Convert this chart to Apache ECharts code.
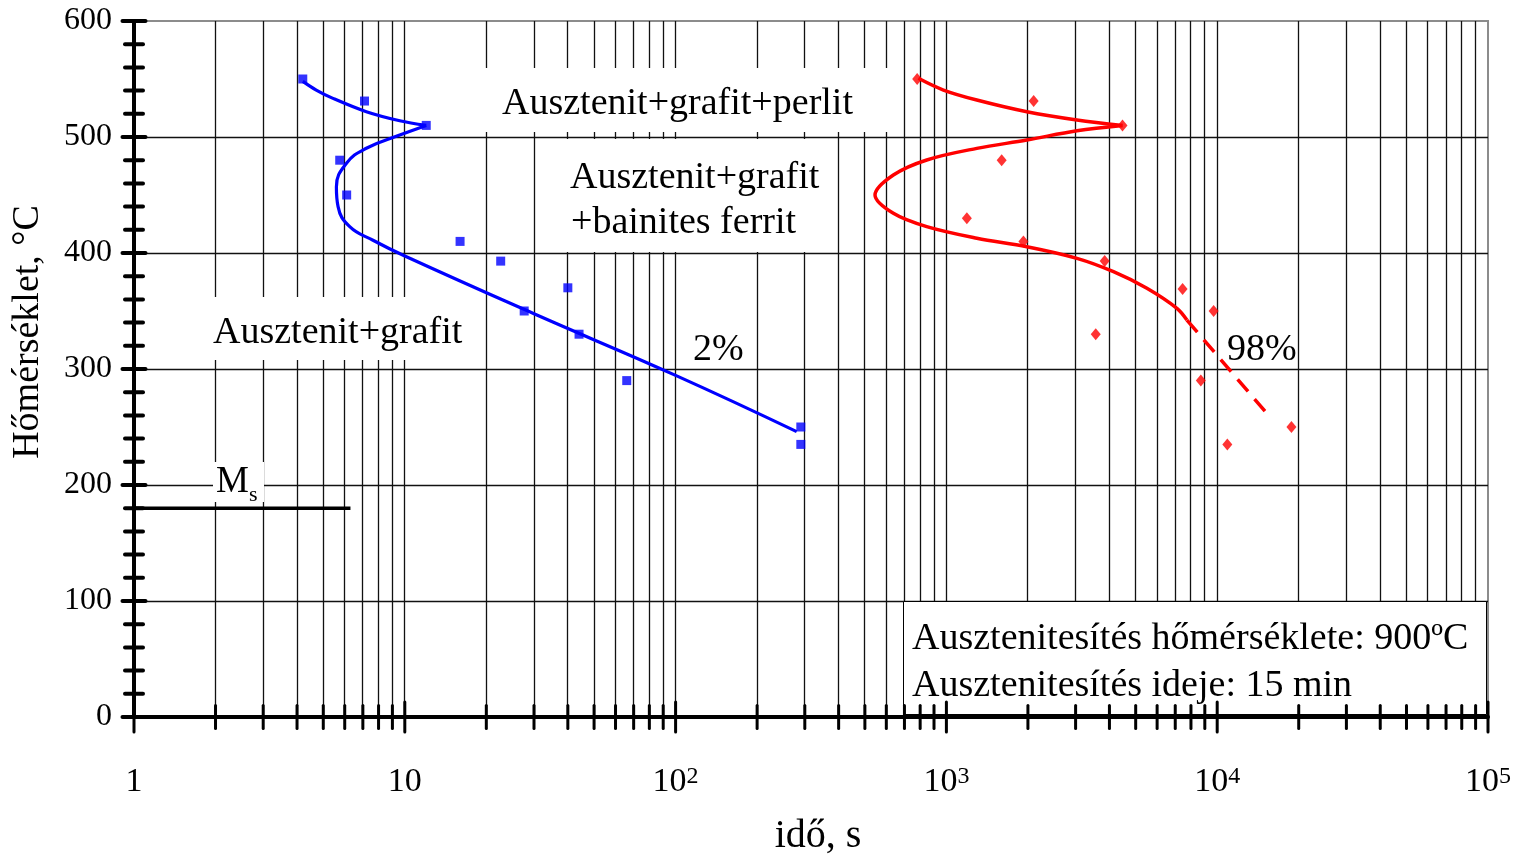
<!DOCTYPE html>
<html>
<head>
<meta charset="utf-8">
<script src="https://cdn.jsdelivr.net/npm/echarts@6/dist/echarts.min.js"></script>
<style>
  html, body { margin: 0; padding: 0; background: #ffffff; }
  #chart { width: 1520px; height: 855px; }
</style>
</head>
<body>
<div id="chart"></div>
<script>
// ---- axis structure ----
const decades = [1, 10, 100, 1000, 10000, 100000];
const decadeLabels = ['1', '10', '10{sup|2}', '10{sup|3}', '10{sup|4}', '10{sup|5}'];
const minorMultipliers = [2, 3, 4, 5, 6, 7, 8, 9];
const tempMajor = [0, 100, 200, 300, 400, 500, 600];
const tempMinor = [20, 40, 60, 80, 120, 140, 160, 180, 220, 240, 260, 280,
                   320, 340, 360, 380, 420, 440, 460, 480, 520, 540, 560, 580];

// ---- measured points: 2 % transformed (blue squares) ----
const blueTime = [4.2, 7.1, 12, 5.75, 6.1, 16, 22.6, 27.6, 40, 44, 66, 290, 290];
const blueTemp = [550, 531, 510, 480, 450, 410, 393, 350, 370, 330, 290, 250, 235];

// ---- measured points: 98 % transformed (red diamonds) ----
const redTime = [780, 2100, 4470, 1600, 1190, 1925, 3840, 7450, 9700, 3560, 8700, 18800, 10900];
const redTemp = [550, 531, 510, 480, 430, 410, 393, 369, 350, 330, 290, 250, 235];

// ---- fitted 2 % curve ----
const blueUpperTime = [4.2, 4.71, 5.43, 7.21, 9.58, 12];
const blueUpperTemp = [548, 540.5, 533.3, 521.8, 514, 510];
const blueLowerTime = [12, 9.58, 7.21, 6.09, 5.59, 5.67, 6.26, 7.63, 10, 30, 100, 280];
const blueLowerTemp = [510, 501.7, 490.3, 477.3, 457, 440, 422.7, 411, 397.4, 347.6, 294.5, 246];

// ---- fitted 98 % curve (solid part and dashed extrapolation) ----
const redUpperTime = [788, 975, 1295, 1982, 3034, 4470];
const redUpperTemp = [550.6, 540.5, 531.9, 521.8, 514.7, 510];
const redLowerTime = [4470, 3034, 1982, 1295, 846, 637, 545, 637, 846, 1295, 1982, 3034, 4140, 5500, 7100, 7730];
const redLowerTemp = [510, 505.4, 497.4, 490.2, 480.2, 467.2, 450, 434.2, 422.7, 412.7, 405.4, 395.4, 383.9, 369.6, 352.3, 342.2];
const redDashTime = [7730, 15060];
const redDashTemp = [342.2, 263.2];

// ---- martensite start ----
const msTime = [1, 6.3];
const msTemp = [180, 180];

const zip = (a, b) => a.map((v, i) => [v, b[i]]);
const SERIF = 'Liberation Serif';
const F = size => size + 'px "Liberation Serif"';

const minorTimes = [];
decades.slice(0, -1).forEach(d => minorMultipliers.forEach(m => minorTimes.push(d * m)));

// grid line positions (outer frame drawn by the grid border)
const vGridData = decades.slice(1, -1).concat(minorTimes).map(v => [v, 0]);
const hGridData = tempMajor.slice(1, -1).map(t => [1, t]);
const xTickData = decades.map(v => [v, 0, 1]).concat(minorTimes.map(v => [v, 0, 0]));
const yTickData = tempMajor.map(t => [1, t, 1]).concat(tempMinor.map(t => [1, t, 0]));

const crisp = v => Math.round(v - 0.5) + 0.5;

const textEl = (x, y, text, size, extra) => ({
  type: 'text', z: 10, x: x, y: y,
  style: Object.assign({ text: text, font: F(size), fill: '#000', align: 'left', verticalAlign: 'middle' }, extra || {})
});

const chart = echarts.init(document.getElementById('chart'), null, { renderer: 'canvas' });

chart.setOption({
  animation: false,
  backgroundColor: '#ffffff',
  grid: {
    left: 134, right: 32, top: 21, bottom: 138,
    outerBoundsMode: 'none', containLabel: false,
    show: true, borderColor: '#8c8c8c', borderWidth: 2, backgroundColor: 'transparent'
  },
  xAxis: {
    type: 'log', logBase: 10, min: 1, max: 100000, z: 5,
    axisLine: { show: true, lineStyle: { color: '#000', width: 4 } },
    axisTick: { show: false },
    splitLine: { show: false },
    axisLabel: {
      margin: 48, color: '#000', fontFamily: SERIF, fontSize: 34,
      formatter: v => decadeLabels[Math.round(Math.log10(v))],
      rich: { sup: { fontSize: 24, fontFamily: SERIF, color: '#000', verticalAlign: 'top', padding: [0, 0, 6, 0] } }
    },
    name: 'idő, s', nameLocation: 'middle', nameGap: 99,
    nameTextStyle: { color: '#000', fontFamily: SERIF, fontSize: 40, padding: [0, 0, 0, 14] }
  },
  yAxis: {
    type: 'value', min: 0, max: 600, interval: 100, z: 5,
    axisLine: { show: true, lineStyle: { color: '#000', width: 4 } },
    axisTick: { show: false },
    splitLine: { show: false },
    axisLabel: { margin: 22, color: '#000', fontFamily: SERIF, fontSize: 32, padding: [6, 0, 0, 0] }
  },
  graphic: [
    { type: 'text', z: 10, x: 28, y: 332, rotation: Math.PI / 2,
      style: { text: 'Hőmérséklet, °C', font: F(38), fill: '#000', align: 'center', verticalAlign: 'middle' } },

    { type: 'rect', z: 1, shape: { x: 472, y: 68, width: 418, height: 64 }, style: { fill: '#fff' } },
    textEl(502, 104, 'Ausztenit+grafit+perlit', 38),

    { type: 'rect', z: 1, shape: { x: 545, y: 139, width: 290, height: 113 }, style: { fill: '#fff' } },
    textEl(570, 178, 'Ausztenit+grafit', 38),
    textEl(571, 223, '+bainites ferrit', 38),

    { type: 'rect', z: 1, shape: { x: 205, y: 297, width: 265, height: 63 }, style: { fill: '#fff' } },
    textEl(213, 333, 'Ausztenit+grafit', 38),

    { type: 'rect', z: 1, shape: { x: 213, y: 462, width: 51, height: 40 }, style: { fill: '#fff' } },
    textEl(216, 482, 'M{sub|s}', 37, { rich: { sub: { font: F(22), fill: '#000', verticalAlign: 'bottom', padding: [0, 0, -6, 0] } } }),

    textEl(693, 350, '2%', 38),
    textEl(1227, 350, '98%', 38),

    { type: 'rect', z: 1, shape: { x: 903.5, y: 601.5, width: 583, height: 113 },
      style: { fill: '#fff', stroke: '#000', lineWidth: 1 } },
    textEl(912, 639, 'Ausztenitesítés hőmérséklete: 900ºC', 38),
    textEl(912, 686, 'Ausztenitesítés ideje: 15 min', 38)
  ],
  series: [
    { // vertical grid lines
      type: 'custom', z: 0, silent: true, data: vGridData,
      renderItem: (params, api) => {
        const a = api.coord([api.value(0), 0]);
        const b = api.coord([api.value(0), 600]);
        const x = crisp(a[0]);
        return { type: 'line', shape: { x1: x, y1: a[1], x2: x, y2: b[1] },
                 style: { stroke: '#111', lineWidth: 1.3 } };
      }
    },
    { // horizontal grid lines
      type: 'custom', z: 0, silent: true, data: hGridData,
      renderItem: (params, api) => {
        const a = api.coord([1, api.value(1)]);
        const b = api.coord([100000, api.value(1)]);
        const y = crisp(a[1]);
        return { type: 'line', shape: { x1: a[0], y1: y, x2: b[0], y2: y },
                 style: { stroke: '#111', lineWidth: 1.3 } };
      }
    },
    { // time axis ticks crossing the axis line
      type: 'custom', z: 6, silent: true, data: xTickData,
      renderItem: (params, api) => {
        const p = api.coord([api.value(0), 0]);
        const h = api.value(2) ? 15 : 11.5;
        return { type: 'line', shape: { x1: p[0], y1: p[1] - h, x2: p[0], y2: p[1] + h },
                 style: { stroke: '#000', lineWidth: 3, lineCap: 'round' } };
      }
    },
    { // temperature axis ticks crossing the axis line
      type: 'custom', z: 6, silent: true, data: yTickData,
      renderItem: (params, api) => {
        const p = api.coord([1, api.value(1)]);
        const h = api.value(2) ? 11.5 : 9;
        return { type: 'line', shape: { x1: p[0] - h, y1: p[1], x2: p[0] + h, y2: p[1] },
                 style: { stroke: '#000', lineWidth: 4, lineCap: 'round' } };
      }
    },
    { name: 'Ms', type: 'line', z: 3, data: zip(msTime, msTemp), showSymbol: false,
      lineStyle: { color: '#000', width: 3.5 } },
    { name: '2% upper', type: 'line', z: 3, data: zip(blueUpperTime, blueUpperTemp), showSymbol: false, smooth: 0.35,
      lineStyle: { color: '#0000ff', width: 3.2 } },
    { name: '2% lower', type: 'line', z: 3, data: zip(blueLowerTime, blueLowerTemp), showSymbol: false, smooth: 0.45,
      lineStyle: { color: '#0000ff', width: 3.2 } },
    { name: '98% upper', type: 'line', z: 3, data: zip(redUpperTime, redUpperTemp), showSymbol: false, smooth: 0.35,
      lineStyle: { color: '#ff0000', width: 3.5 } },
    { name: '98% lower', type: 'line', z: 3, data: zip(redLowerTime, redLowerTemp), showSymbol: false, smooth: 0.35,
      lineStyle: { color: '#ff0000', width: 3.5 } },
    { name: '98% extrapolated', type: 'line', z: 3, data: zip(redDashTime, redDashTemp), showSymbol: false,
      lineStyle: { color: '#ff0000', width: 3.5, type: [16, 10] } },
    { name: '2%', type: 'scatter', z: 4, data: zip(blueTime, blueTemp), symbol: 'rect', symbolSize: 9,
      itemStyle: { color: '#0000ff' } },
    { name: '98%', type: 'scatter', z: 4, data: zip(redTime, redTemp), symbol: 'diamond', symbolSize: [10, 12],
      itemStyle: { color: '#ff0000' } }
  ]
});
</script>
</body>
</html>
